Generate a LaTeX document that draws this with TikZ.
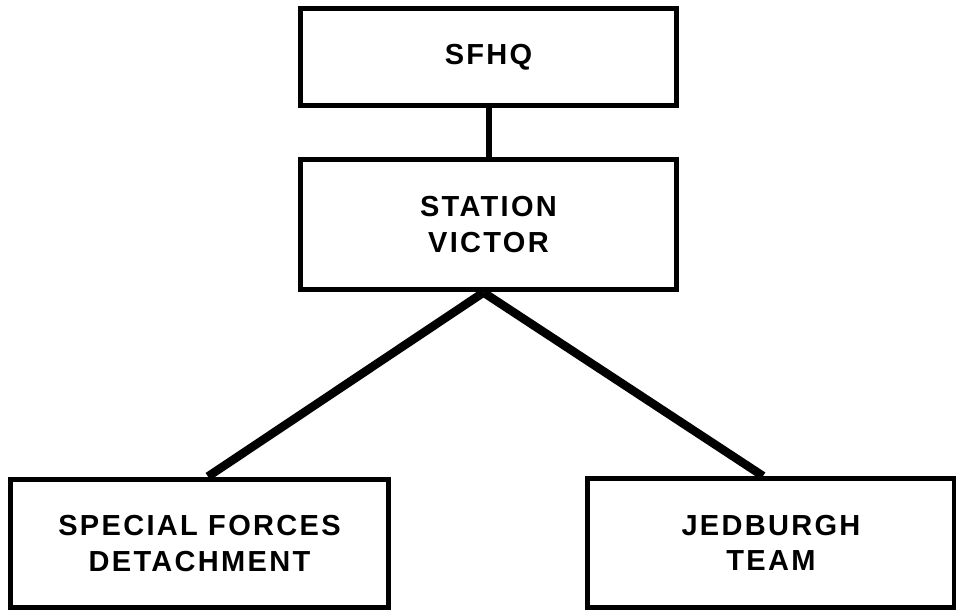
\documentclass[tikz,border=0pt]{standalone}
\usepackage{fontspec}
\newfontfamily\chartfont[LetterSpace=8]{Liberation Sans}
\usepackage{tikz}
\usetikzlibrary{positioning,backgrounds}
\tikzset{every node/.append style={align=center}}
\tikzset{
    unitbox/.style={draw, line width=0.1cm, fill=white, inner sep=0pt,
        font=\chartfont\bfseries\fontsize{16.5}{20}\selectfont},
    link/.style={line width=0.12cm},
    branch/.style={line width=0.17cm}
}

\begin{document}
\begin{tikzpicture}[x=0.02cm, y=-0.02cm]
    \useasboundingbox (0,0) rectangle (956,612);

    % Headquarters chain
    \node[unitbox, minimum width=7.54cm, minimum height=1.96cm] (sfhq) at (488.5,57) {SFHQ};
    \node[unitbox, minimum width=7.54cm, minimum height=2.62cm] (victor) at (488.5,224.5) {STATION\\VICTOR};

    % Field units
    \node[unitbox, minimum width=7.58cm, minimum height=2.58cm] (sfdet) at (199.5,543.5) {SPECIAL FORCES\\DETACHMENT};
    \node[unitbox, minimum width=7.36cm, minimum height=2.58cm] (jedteam) at (771,543) {JEDBURGH\\TEAM};

    % Connectors
    \begin{scope}[on background layer]
        \coordinate (apex) at ([xshift=-0.1cm]victor.south);
        \draw[link] (sfhq) -- (victor);
        \draw[branch] (apex) -- ([xshift=0.17cm]sfdet.north);
        \draw[branch] (apex) -- ([xshift=-0.16cm]jedteam.north);
    \end{scope}
\end{tikzpicture}
\end{document}
